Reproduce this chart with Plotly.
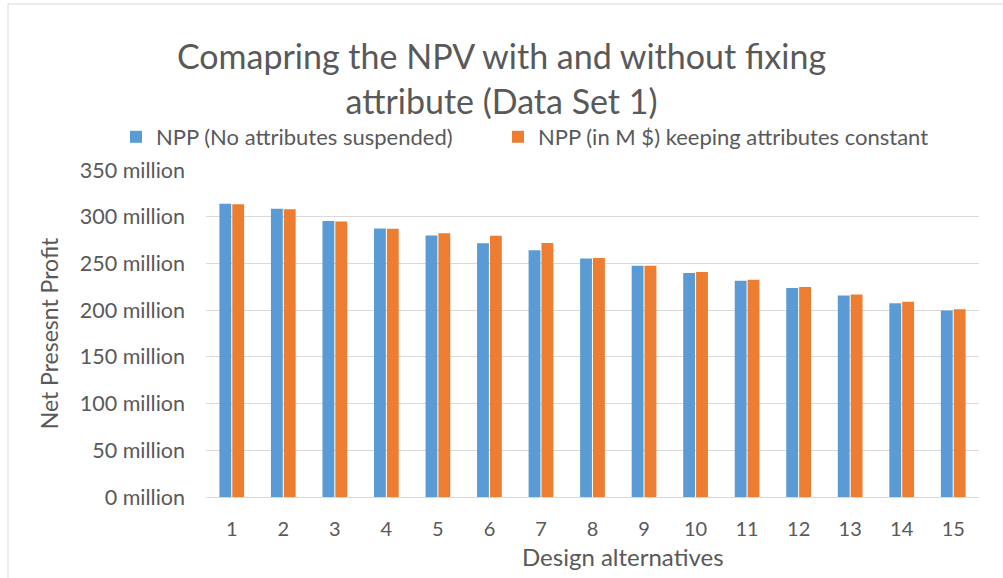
import plotly.graph_objects as go

categories = [str(i) for i in range(1, 16)]
npp_no_suspend = [314, 308.6, 295.4, 287.5, 280, 271.5, 264, 255.4, 247.6, 239.7, 231.5, 223.7, 215.8, 207.5, 199.6]
npp_constant = [313.3, 308, 295, 287.2, 282.2, 279.6, 271.8, 255.7, 247.6, 240.8, 232.6, 224.7, 216.8, 209, 201]
y_ticks = [0, 50, 100, 150, 200, 250, 300, 350]
y_tick_labels = [f"{v} million" for v in y_ticks]
series_names = ["NPP (No attributes suspended)", "NPP (in M $) keeping attributes constant"]

FONT = "Lato"
TXT = "#595959"
L, R, T, B = 206, 979, 170, 497
PW, PH = R - L, B - T

fig = go.Figure()
fig.add_trace(go.Bar(x=categories, y=npp_no_suspend, name=series_names[0],
                     marker=dict(color="#5B9BD5", line=dict(width=0)), legend="legend"))
fig.add_trace(go.Bar(x=categories, y=npp_constant, name=series_names[1],
                     marker=dict(color="#ED7D31", line=dict(width=0)), legend="legend2"))

legend_common = dict(orientation="h", xanchor="left", y=(B - 137) / PH, yanchor="middle",
                     font=dict(family=FONT, size=22, color=TXT), itemwidth=30,
                     bgcolor="rgba(0,0,0,0)")

fig.update_layout(
    width=1003, height=578,
    margin=dict(l=L, r=1003 - R, t=T, b=578 - B),
    paper_bgcolor="white", plot_bgcolor="white",
    font=dict(family=FONT, color=TXT, size=20),
    barmode="group", bargap=0.5, bargroupgap=0.08,
    title=dict(text="Comapring the NPV with and without fixing<br>attribute (Data Set 1)",
               x=0.5, xanchor="center", y=0.88, yanchor="top",
               font=dict(family=FONT, size=34, color=TXT)),
    legend=dict(x=(116 - L) / PW, **legend_common),
    legend2=dict(x=(498 - L) / PW, **legend_common),
    showlegend=True,
)

fig.update_yaxes(range=[0, 350], tickvals=y_ticks, ticktext=y_tick_labels,
                 tickfont=dict(size=21.5),
                 showgrid=True, gridcolor="#D9D9D9", gridwidth=1,
                 zeroline=False, showline=False, ticks="", ticklabelstandoff=20,
                 title=dict(text="Net Presesnt Profit", standoff=14,
                            font=dict(family=FONT, size=23, color=TXT)))
fig.update_xaxes(showgrid=False, showline=True, linecolor="#D9D9D9", linewidth=1,
                 tickfont=dict(size=20),
                 ticks="", ticklabelstandoff=14)

fig.add_annotation(text="Design alternatives", xref="paper", yref="paper",
                   x=(623 - L) / PW, y=(B - 556) / PH, xanchor="center", yanchor="middle",
                   showarrow=False, font=dict(family=FONT, size=24, color=TXT))

# chart border
fig.add_shape(type="rect", xref="paper", yref="paper",
              x0=(8 - L) / PW, x1=(1010 - L) / PW,
              y0=(B - 590) / PH, y1=(B - 4) / PH,
              line=dict(color="#D9D9D9", width=1), fillcolor="rgba(0,0,0,0)", layer="below")

fig.write_html("out.html", config={"displayModeBar": False},
               post_script="document.body.style.margin='0';")
